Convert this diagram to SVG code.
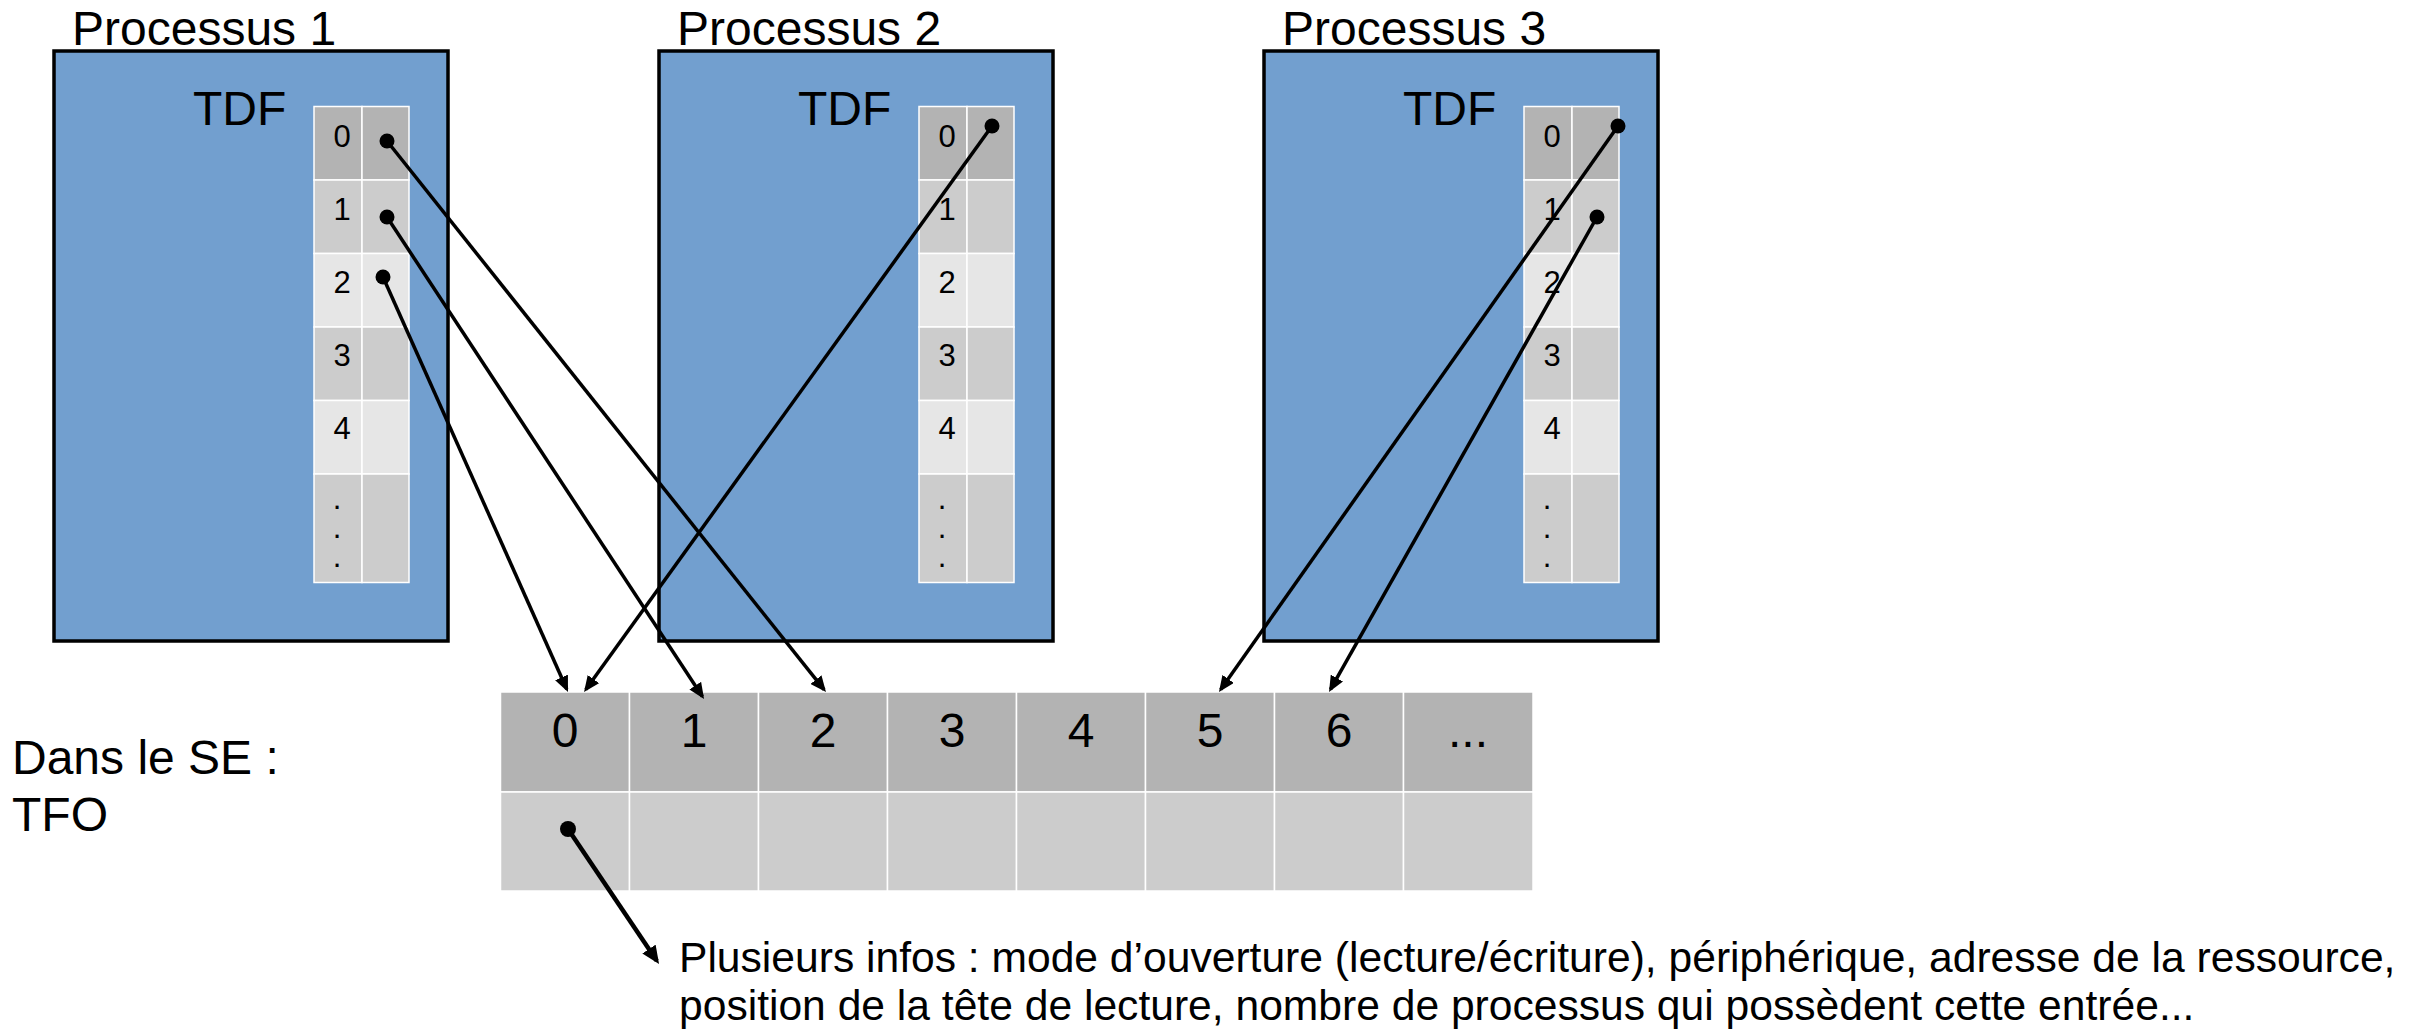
<svg xmlns="http://www.w3.org/2000/svg" width="2415" height="1030" viewBox="0 0 2415 1030">
<style>
  text { font-family: "Liberation Sans", Arial, sans-serif; fill: #000; }
  .big { font-size: 48px; }
  .small { font-size: 31px; }
  .info { font-size: 42.6px; }
  .box { fill: #729fcf; stroke: #000; stroke-width: 3.5; }
  .c1 { fill: #b3b3b3; stroke: #fff; stroke-width: 1.5; }
  .c2 { fill: #cccccc; stroke: #fff; stroke-width: 1.5; }
  .c3 { fill: #e6e6e6; stroke: #fff; stroke-width: 1.5; }
  .link { stroke: #000; stroke-width: 3.5; fill: none; marker-end: url(#arrow); }
  .link2 { stroke: #000; stroke-width: 4.5; fill: none; marker-end: url(#arrowBig); }
  .dot { fill: #000; }
</style>
<defs>
  <marker id="arrow" viewBox="0 0 16 14" refX="13" refY="7" markerWidth="16" markerHeight="14" markerUnits="userSpaceOnUse" orient="auto">
    <path d="M0,0 L16,7 L0,14 z" fill="#000"/>
  </marker>
  <marker id="arrowBig" viewBox="0 0 18 16" refX="14" refY="8" markerWidth="18" markerHeight="16" markerUnits="userSpaceOnUse" orient="auto">
    <path d="M0,0 L18,8 L0,16 z" fill="#000"/>
  </marker>
  <g id="tdf">
    <rect class="c1" x="0" y="0" width="48" height="73.5"/>
    <rect class="c1" x="48" y="0" width="47" height="73.5"/>
    <rect class="c2" x="0" y="73.5" width="48" height="73.5"/>
    <rect class="c2" x="48" y="73.5" width="47" height="73.5"/>
    <rect class="c3" x="0" y="147" width="48" height="73.5"/>
    <rect class="c3" x="48" y="147" width="47" height="73.5"/>
    <rect class="c2" x="0" y="220.5" width="48" height="73.5"/>
    <rect class="c2" x="48" y="220.5" width="47" height="73.5"/>
    <rect class="c3" x="0" y="294" width="48" height="73.5"/>
    <rect class="c3" x="48" y="294" width="47" height="73.5"/>
    <rect class="c2" x="0" y="367.5" width="48" height="108.5"/>
    <rect class="c2" x="48" y="367.5" width="47" height="108.5"/>
    <text class="small" x="28" y="40" text-anchor="middle">0</text>
    <text class="small" x="28" y="113" text-anchor="middle">1</text>
    <text class="small" x="28" y="186" text-anchor="middle">2</text>
    <text class="small" x="28" y="259" text-anchor="middle">3</text>
    <text class="small" x="28" y="332" text-anchor="middle">4</text>
    <text class="small" x="23" y="402" text-anchor="middle">.</text>
    <text class="small" x="23" y="431" text-anchor="middle">.</text>
    <text class="small" x="23" y="460" text-anchor="middle">.</text>
  </g>
</defs>
<rect width="2415" height="1030" fill="#fff"/>

<g id="processus1">
  <text class="big" x="72" y="45">Processus 1</text>
  <rect class="box" x="54" y="51" width="394" height="590"/>
  <text class="big" x="193" y="125">TDF</text>
  <use href="#tdf" x="314" y="106.5"/>
</g>
<g id="processus2">
  <text class="big" x="677" y="45">Processus 2</text>
  <rect class="box" x="659" y="51" width="394" height="590"/>
  <text class="big" x="798" y="125">TDF</text>
  <use href="#tdf" x="919" y="106.5"/>
</g>
<g id="processus3">
  <text class="big" x="1282" y="45">Processus 3</text>
  <rect class="box" x="1264" y="51" width="394" height="590"/>
  <text class="big" x="1403" y="125">TDF</text>
  <use href="#tdf" x="1524" y="106.5"/>
</g>

<g id="tfo-label">
  <text class="big" x="12" y="774">Dans le SE :</text>
  <text class="big" x="12" y="831">TFO</text>
</g>

<g id="tfo">
  <rect class="c1" x="500.5" y="692" width="129" height="100"/>
  <rect class="c1" x="629.5" y="692" width="129" height="100"/>
  <rect class="c1" x="758.5" y="692" width="129" height="100"/>
  <rect class="c1" x="887.5" y="692" width="129" height="100"/>
  <rect class="c1" x="1016.5" y="692" width="129" height="100"/>
  <rect class="c1" x="1145.5" y="692" width="129" height="100"/>
  <rect class="c1" x="1274.5" y="692" width="129" height="100"/>
  <rect class="c1" x="1403.5" y="692" width="129.5" height="100"/>
  <rect class="c2" x="500.5" y="792" width="129" height="99"/>
  <rect class="c2" x="629.5" y="792" width="129" height="99"/>
  <rect class="c2" x="758.5" y="792" width="129" height="99"/>
  <rect class="c2" x="887.5" y="792" width="129" height="99"/>
  <rect class="c2" x="1016.5" y="792" width="129" height="99"/>
  <rect class="c2" x="1145.5" y="792" width="129" height="99"/>
  <rect class="c2" x="1274.5" y="792" width="129" height="99"/>
  <rect class="c2" x="1403.5" y="792" width="129.5" height="99"/>
  <g text-anchor="middle">
    <text class="big" x="565" y="747">0</text>
    <text class="big" x="694" y="747">1</text>
    <text class="big" x="823" y="747">2</text>
    <text class="big" x="952" y="747">3</text>
    <text class="big" x="1081" y="747">4</text>
    <text class="big" x="1210" y="747">5</text>
    <text class="big" x="1339" y="747">6</text>
    <text class="big" x="1468" y="747">...</text>
  </g>
</g>

<g id="infos">
  <text class="info" x="679" y="972">Plusieurs infos : mode d’ouverture (lecture/écriture), périphérique, adresse de la ressource,</text>
  <text class="info" x="679" y="1020">position de la tête de lecture, nombre de processus qui possèdent cette entrée...</text>
</g>

<g id="connectors">
  <line class="link" x1="387" y1="141" x2="824.1" y2="689.7"/>
  <line class="link" x1="387" y1="217" x2="702.4" y2="696.5"/>
  <line class="link" x1="383" y1="277" x2="566.8" y2="689.3"/>
  <line class="link" x1="992" y1="126" x2="585.8" y2="689.6"/>
  <line class="link" x1="1618" y1="126" x2="1220.7" y2="689.5"/>
  <line class="link" x1="1597" y1="217" x2="1330.5" y2="689.4"/>
  <line class="link2" x1="568" y1="829" x2="656.8" y2="960.7"/>
  <circle class="dot" cx="387" cy="141" r="7.5"/>
  <circle class="dot" cx="387" cy="217" r="7.5"/>
  <circle class="dot" cx="383" cy="277" r="7.5"/>
  <circle class="dot" cx="992" cy="126" r="7.5"/>
  <circle class="dot" cx="1618" cy="126" r="7.5"/>
  <circle class="dot" cx="1597" cy="217" r="7.5"/>
  <circle class="dot" cx="568" cy="829" r="8"/>
</g>
</svg>
